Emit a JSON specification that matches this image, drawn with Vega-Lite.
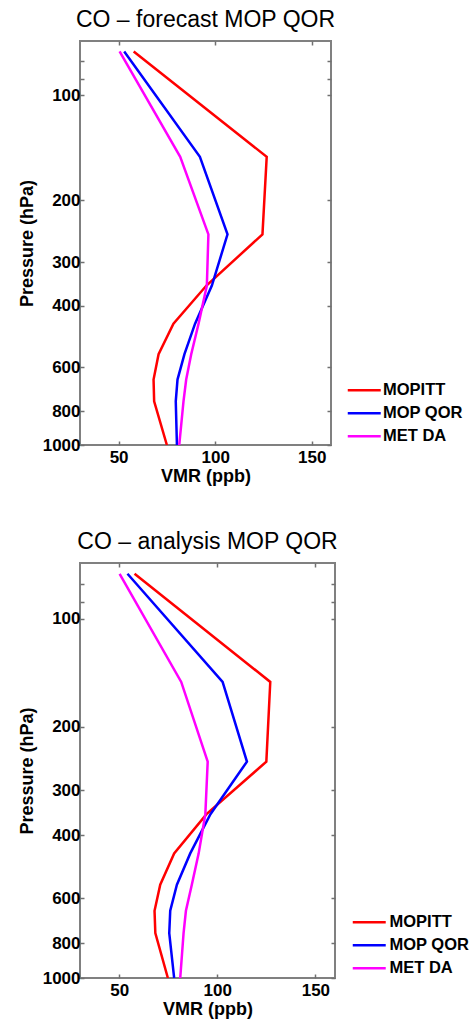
{
  "$schema": "https://vega.github.io/schema/vega-lite/v6.json",
  "padding": {"left": 17, "top": 8, "right": 0, "bottom": 0},
  "background": "white",
  "spacing": 44,
  "datasets": {
    "forecast": [
      {"series": "MOPITT", "p": 75, "vmr": 57.8},
      {"series": "MOPITT", "p": 150, "vmr": 126.7},
      {"series": "MOPITT", "p": 250, "vmr": 124.5},
      {"series": "MOPITT", "p": 350, "vmr": 95.5},
      {"series": "MOPITT", "p": 450, "vmr": 78.4},
      {"series": "MOPITT", "p": 550, "vmr": 70.7},
      {"series": "MOPITT", "p": 650, "vmr": 68.1},
      {"series": "MOPITT", "p": 750, "vmr": 68.4},
      {"series": "MOPITT", "p": 1000, "vmr": 75.0},
      {"series": "MOP QOR", "p": 75, "vmr": 52.9},
      {"series": "MOP QOR", "p": 150, "vmr": 92.1},
      {"series": "MOP QOR", "p": 250, "vmr": 106.4},
      {"series": "MOP QOR", "p": 350, "vmr": 98.3},
      {"series": "MOP QOR", "p": 450, "vmr": 89.6},
      {"series": "MOP QOR", "p": 550, "vmr": 84.1},
      {"series": "MOP QOR", "p": 650, "vmr": 80.5},
      {"series": "MOP QOR", "p": 750, "vmr": 79.6},
      {"series": "MOP QOR", "p": 1000, "vmr": 80.2},
      {"series": "MET DA", "p": 75, "vmr": 50.5},
      {"series": "MET DA", "p": 150, "vmr": 81.9},
      {"series": "MET DA", "p": 250, "vmr": 96.5},
      {"series": "MET DA", "p": 350, "vmr": 95.7},
      {"series": "MET DA", "p": 450, "vmr": 91.4},
      {"series": "MET DA", "p": 550, "vmr": 87.6},
      {"series": "MET DA", "p": 650, "vmr": 85.0},
      {"series": "MET DA", "p": 750, "vmr": 83.6},
      {"series": "MET DA", "p": 1000, "vmr": 81.4}
    ],
    "analysis": [
      {"series": "MOPITT", "p": 75, "vmr": 57.8},
      {"series": "MOPITT", "p": 150, "vmr": 127.0},
      {"series": "MOPITT", "p": 250, "vmr": 125.0},
      {"series": "MOPITT", "p": 350, "vmr": 94.5},
      {"series": "MOPITT", "p": 450, "vmr": 78.0},
      {"series": "MOPITT", "p": 550, "vmr": 70.9},
      {"series": "MOPITT", "p": 650, "vmr": 68.0},
      {"series": "MOPITT", "p": 750, "vmr": 68.4},
      {"series": "MOPITT", "p": 1000, "vmr": 74.8},
      {"series": "MOP QOR", "p": 75, "vmr": 54.2},
      {"series": "MOP QOR", "p": 150, "vmr": 102.7},
      {"series": "MOP QOR", "p": 250, "vmr": 115.1},
      {"series": "MOP QOR", "p": 350, "vmr": 96.5},
      {"series": "MOP QOR", "p": 450, "vmr": 86.2},
      {"series": "MOP QOR", "p": 550, "vmr": 79.4},
      {"series": "MOP QOR", "p": 650, "vmr": 76.0},
      {"series": "MOP QOR", "p": 750, "vmr": 75.5},
      {"series": "MOP QOR", "p": 1000, "vmr": 78.0},
      {"series": "MET DA", "p": 75, "vmr": 50.2},
      {"series": "MET DA", "p": 150, "vmr": 81.6},
      {"series": "MET DA", "p": 250, "vmr": 95.1},
      {"series": "MET DA", "p": 350, "vmr": 93.9},
      {"series": "MET DA", "p": 450, "vmr": 90.5},
      {"series": "MET DA", "p": 550, "vmr": 87.0},
      {"series": "MET DA", "p": 650, "vmr": 84.0},
      {"series": "MET DA", "p": 750, "vmr": 82.8},
      {"series": "MET DA", "p": 1000, "vmr": 81.1}
    ]
  },
  "config": {
    "font": "Liberation Sans",
    "view": {"stroke": "#808080", "strokeWidth": 2},
    "title": {"font": "Liberation Sans", "fontSize": 23, "fontWeight": "normal", "color": "black", "anchor": "middle", "offset": 8},
    "axis": {
      "domain": false,
      "grid": false,
      "ticks": true,
      "tickColor": "#707070",
      "tickSize": -4,
      "tickWidth": 1.5,
      "labelFont": "Liberation Sans",
      "labelFontSize": 17,
      "labelFontWeight": "bold",
      "labelColor": "black",
      "titleFont": "Liberation Sans",
      "titleFontSize": 18,
      "titleFontWeight": "bold",
      "titleColor": "black"
    },
    "legend": {
      "orient": "none",
      "title": null,
      "symbolType": "M-2.5,0H2.5",
      "symbolSize": 174,
      "symbolStrokeWidth": 2.5,
      "labelFont": "Liberation Sans",
      "labelFontSize": 16.5,
      "labelFontWeight": "bold",
      "labelColor": "black",
      "padding": 0,
      "rowPadding": 6
    }
  },
  "resolve": {"scale": {"color": "independent"}, "legend": {"color": "independent"}},
  "vconcat": [
    {
      "title": "CO – forecast MOP QOR",
      "width": 251,
      "height": 404,
      "data": {"name": "forecast"},
      "layer": [
        {
          "mark": {"type": "line", "strokeWidth": 2.5, "clip": true},
          "encoding": {
            "x": {"field": "vmr", "type": "quantitative", "scale": {"domain": [30, 160], "nice": false, "zero": false}, "axis": {"orient": "bottom", "values": [50, 100, 150], "title": "VMR (ppb)", "labelPadding": 8, "titlePadding": 2}},
            "y": {"field": "p", "type": "quantitative", "scale": {"type": "log", "domain": [70, 1000], "nice": false, "reverse": true}, "axis": {"orient": "left", "values": [80, 90, 100, 200, 300, 400, 600, 800, 1000], "format": "d", "labelExpr": "datum.value < 100 ? '' : datum.label", "title": "Pressure (hPa)", "labelPadding": 4, "titlePadding": 6}},
            "color": {"field": "series", "type": "nominal", "scale": {"domain": ["MOPITT", "MOP QOR", "MET DA"], "range": ["#ff0000", "#0000ff", "#ff00ff"]}, "legend": {"legendX": 276, "legendY": 341, "labelOffset": 10.5}},
            "order": {"field": "p", "type": "quantitative"}
          }
        },
        {
          "mark": {"type": "line", "opacity": 0},
          "encoding": {
            "x": {"field": "vmr", "type": "quantitative", "axis": {"orient": "top", "values": [50, 100, 150], "labels": false, "title": null}},
            "y": {"field": "p", "type": "quantitative", "axis": {"orient": "right", "values": [80, 90, 100, 200, 300, 400, 600, 800, 1000], "labels": false, "title": null}},
            "color": {"field": "series", "type": "nominal"},
            "order": {"field": "p", "type": "quantitative"}
          }
        }
      ],
      "resolve": {"axis": {"x": "independent", "y": "independent"}}
    },
    {
      "title": "CO – analysis MOP QOR",
      "width": 255,
      "height": 415,
      "data": {"name": "analysis"},
      "layer": [
        {
          "mark": {"type": "line", "strokeWidth": 2.5, "clip": true},
          "encoding": {
            "x": {"field": "vmr", "type": "quantitative", "scale": {"domain": [30, 160], "nice": false, "zero": false}, "axis": {"orient": "bottom", "values": [50, 100, 150], "title": "VMR (ppb)", "labelPadding": 8, "titlePadding": 2}},
            "y": {"field": "p", "type": "quantitative", "scale": {"type": "log", "domain": [70, 1000], "nice": false, "reverse": true}, "axis": {"orient": "left", "values": [80, 90, 100, 200, 300, 400, 600, 800, 1000], "format": "d", "labelExpr": "datum.value < 100 ? '' : datum.label", "title": "Pressure (hPa)", "labelPadding": 4, "titlePadding": 6}},
            "color": {"field": "series", "type": "nominal", "scale": {"domain": ["MOPITT", "MOP QOR", "MET DA"], "range": ["#ff0000", "#0000ff", "#ff00ff"]}, "legend": {"legendX": 281, "legendY": 351, "labelOffset": 12}},
            "order": {"field": "p", "type": "quantitative"}
          }
        },
        {
          "mark": {"type": "line", "opacity": 0},
          "encoding": {
            "x": {"field": "vmr", "type": "quantitative", "axis": {"orient": "top", "values": [50, 100, 150], "labels": false, "title": null}},
            "y": {"field": "p", "type": "quantitative", "axis": {"orient": "right", "values": [80, 90, 100, 200, 300, 400, 600, 800, 1000], "labels": false, "title": null}},
            "color": {"field": "series", "type": "nominal"},
            "order": {"field": "p", "type": "quantitative"}
          }
        }
      ],
      "resolve": {"axis": {"x": "independent", "y": "independent"}}
    }
  ]
}
